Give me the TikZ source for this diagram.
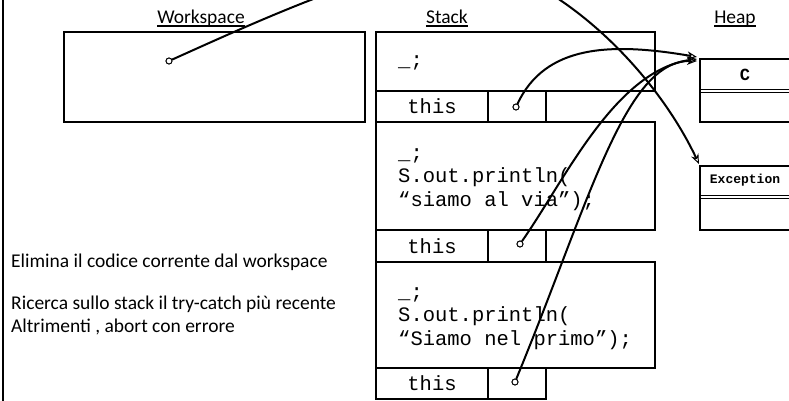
\documentclass[tikz,border=0pt]{standalone}
\usepackage{fontspec}
\setmainfont{Carlito}
\newfontfamily\codefont{Liberation Mono}
\usetikzlibrary{arrows.meta}

\tikzset{
  cell/.style={draw, line width=1.1pt, rectangle, inner sep=0pt},
  heading/.style={font=\fontsize{19.5}{22}\selectfont, inner sep=0pt, anchor=base},
  note/.style={font=\fontsize{19.5}{22}\selectfont, inner sep=0pt, anchor=base west},
  code/.style={font=\codefont\fontsize{20.5}{24}\selectfont, inner sep=0pt, anchor=base west},
  cellcode/.style={font=\codefont\fontsize{20.5}{24}\selectfont, inner sep=0pt},
  ref/.style={draw, circle, fill=white, line width=0.9pt, inner sep=0pt, minimum size=6pt},
  refline/.style={line width=2pt},
  conn/.style={refline, -{Stealth[open, length=10pt, width=8pt, line width=1pt]}},
  uline/.style={line width=1.8pt}
}

\begin{document}
\begin{tikzpicture}[x=1pt, y=-1pt]
\useasboundingbox (0,0) rectangle (789,400);
\clip (0,0) rectangle (789,400);

% left border of the slide
\draw[line width=2pt] (3,-2) -- (3,402);

% column headings
\node[heading] (hws) at (201,23) {Workspace};
\node[heading] (hst) at (447,23) {Stack};
\node[heading] (hhp) at (735,23) {Heap};
\foreach \h in {hws,hst,hhp}
  \draw[uline] ([yshift=-3pt]\h.base west) -- ([yshift=-3pt]\h.base east);

% workspace
\node[cell, minimum width=301pt, minimum height=90pt] (ws) at (214.5,77) {};

% stack frame 1
\node[cell, minimum width=279pt, minimum height=59pt] (f1) at (515.5,61.5) {};
\node[code] (f1a) at (398,66) {\_;};
\node[cell, minimum width=112pt, minimum height=31pt] (t1) at (432,106.5) {};
\node[cell, minimum width=58pt, minimum height=31pt] (c1) at (517,106.5) {};
\node[cellcode] (t1x) at (t1) {this};

% stack frame 2
\node[cell, minimum width=279pt, minimum height=108pt] (f2) at (515.5,176) {};
\node[code] (f2a) at (398,159) {\_;};
\node[code] (f2b) at (398,182.5) {S.out.println(};
\node[code] (f2c) at (398,206) {“siamo al via”);};
\node[cell, minimum width=112pt, minimum height=32pt] (t2) at (432,246) {};
\node[cell, minimum width=58pt, minimum height=32pt] (c2) at (517,246) {};
\node[cellcode] (t2x) at (t2) {this};

% stack frame 3
\node[cell, minimum width=279pt, minimum height=106pt] (f3) at (515.5,315) {};
\node[code] (f3a) at (398,298) {\_;};
\node[code] (f3b) at (398,321.5) {S.out.println(};
\node[code] (f3c) at (398,345) {“Siamo nel primo”);};
\node[cell, minimum width=112pt, minimum height=31pt] (t3) at (432,383.5) {};
\node[cell, minimum width=58pt, minimum height=31pt] (c3) at (517,383.5) {};
\node[cellcode] (t3x) at (t3) {this};

% heap objects
\node[cell, minimum width=92pt, minimum height=63pt] (objc) at (746,90.5) {};
\draw[line width=0.9pt] (700,89.5) -- (792,89.5) (700,92) -- (792,92);
\node[font=\codefont\bfseries\fontsize{17}{20}\selectfont, inner sep=0pt] (objcname) at (745,75) {C};

\node[cell, minimum width=92pt, minimum height=64pt] (obje) at (746,198) {};
\draw[line width=0.9pt] (700,195.5) -- (792,195.5) (700,198) -- (792,198);
\node[font=\codefont\bfseries\fontsize{13}{16}\selectfont, inner sep=0pt] (objename) at (745,180) {Exception};

% arrow tips on the heap objects
\coordinate (inC1) at (697,57);
\coordinate (inC2) at (697,59);
\coordinate (inC3) at (697,61);
\coordinate (inE) at (699,164);
\coordinate (top) at (450,-40);

% reference holders
\node[ref] (p0) at (169,61) {};
\node[ref] (p1) at (516,107) {};
\node[ref] (p2) at (520,244) {};
\node[ref] (p3) at (515,382) {};

% references
\draw[refline] (p0) .. controls (260,20) and (370,-30) .. (top);
\draw[conn] (top) .. controls (540,-40) and (650,60) .. (inE);
\draw[conn] (p1) .. controls (545,45) and (610,42) .. (inC1);
\draw[conn] (p2) .. controls (565,180) and (615,70) .. (inC2);
\draw[conn] (p3) .. controls (590,200) and (625,60) .. (inC3);

% circles drawn on top of the line ends
\node[ref] at (p0) {};
\node[ref] at (p1) {};
\node[ref] at (p2) {};
\node[ref] at (p3) {};

% notes
\node[note] (n1) at (11,267) {Elimina il codice corrente dal workspace};
\node[note] (n2) at (11,309) {Ricerca sullo stack il try-catch più recente};
\node[note] (n3) at (11,332) {Altrimenti , abort con errore};
\end{tikzpicture}
\end{document}
